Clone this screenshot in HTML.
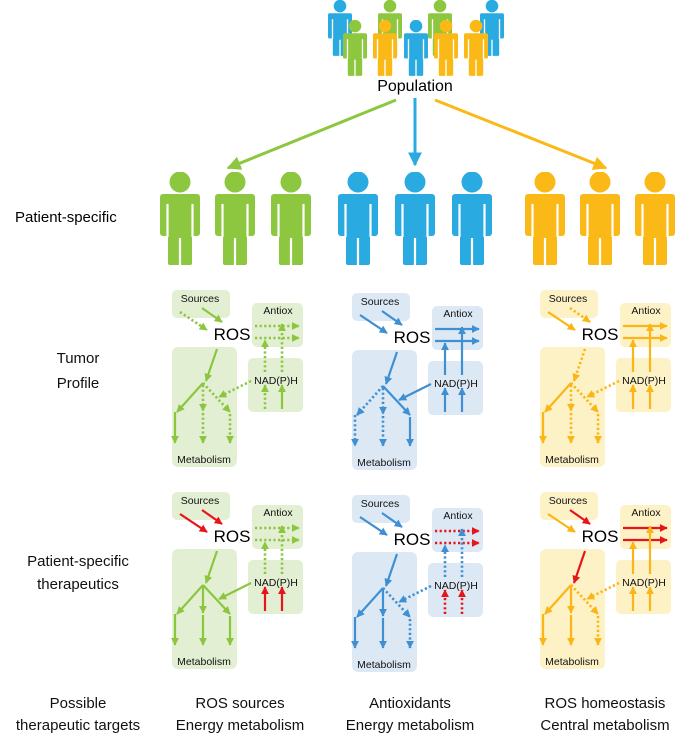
<!DOCTYPE html>
<html><head><meta charset="utf-8"><style>
html,body{margin:0;padding:0;background:#fff}
svg{display:block;font-family:"Liberation Sans",sans-serif}
line{stroke-width:2.2;fill:none}
.g{stroke:#8cc63f;marker-end:url(#mg)}
.b{stroke:#3f8fd2;marker-end:url(#mb)}
.y{stroke:#fbb616;marker-end:url(#my)}
.r{stroke:#e8141b;marker-end:url(#mr)}
.d{stroke-dasharray:2.2 2.4;stroke-width:2.6}
.bt{font-size:10.5px;text-anchor:middle;fill:#111}
.ros{font-size:17px;text-anchor:middle;fill:#000}
.lab{font-size:15px;fill:#111;text-anchor:middle}
</style></head><body>
<svg width="680" height="741" viewBox="0 0 680 741" xmlns="http://www.w3.org/2000/svg">
<defs>
<marker id="mg" viewBox="0 0 10 10" refX="9" refY="5" markerWidth="8" markerHeight="8" markerUnits="userSpaceOnUse" orient="auto"><path d="M0,0L10,5L0,10z" fill="#8cc63f"/></marker>
<marker id="mb" viewBox="0 0 10 10" refX="9" refY="5" markerWidth="8" markerHeight="8" markerUnits="userSpaceOnUse" orient="auto"><path d="M0,0L10,5L0,10z" fill="#3f8fd2"/></marker>
<marker id="my" viewBox="0 0 10 10" refX="9" refY="5" markerWidth="8" markerHeight="8" markerUnits="userSpaceOnUse" orient="auto"><path d="M0,0L10,5L0,10z" fill="#fbb616"/></marker>
<marker id="mr" viewBox="0 0 10 10" refX="9" refY="5" markerWidth="8" markerHeight="8" markerUnits="userSpaceOnUse" orient="auto"><path d="M0,0L10,5L0,10z" fill="#e8141b"/></marker>
<marker id="Mg" viewBox="0 0 10 10" refX="9" refY="5" markerWidth="14" markerHeight="14" markerUnits="userSpaceOnUse" orient="auto"><path d="M0,0L10,5L0,10z" fill="#8dc63f"/></marker>
<marker id="Mb" viewBox="0 0 10 10" refX="9" refY="5" markerWidth="14" markerHeight="14" markerUnits="userSpaceOnUse" orient="auto"><path d="M0,0L10,5L0,10z" fill="#29abe2"/></marker>
<marker id="My" viewBox="0 0 10 10" refX="9" refY="5" markerWidth="14" markerHeight="14" markerUnits="userSpaceOnUse" orient="auto"><path d="M0,0L10,5L0,10z" fill="#fbb917"/></marker>
<symbol id="p" viewBox="-20 0 40 93">
<circle cx="0" cy="10" r="10.5" fill="currentColor"/>
<rect x="-20" y="22" width="40" height="42" rx="3" fill="currentColor"/>
<rect x="-12" y="58" width="24" height="35" rx="2" fill="currentColor"/>
<line x1="-12.5" y1="32" x2="-12.5" y2="65" stroke="#fff" stroke-width="1.3"/>
<line x1="12.5" y1="32" x2="12.5" y2="65" stroke="#fff" stroke-width="1.3"/>
<line x1="0" y1="66" x2="0" y2="94" stroke="#fff" stroke-width="2"/>
</symbol>
</defs>

<!-- population -->
<use href="#p" x="328" y="0" width="24" height="56" style="color:#29abe2"/>
<use href="#p" x="378" y="0" width="24" height="56" style="color:#8dc63f"/>
<use href="#p" x="428" y="0" width="24" height="56" style="color:#8dc63f"/>
<use href="#p" x="480" y="0" width="24" height="56" style="color:#29abe2"/>
<use href="#p" x="343" y="20" width="24" height="56" style="color:#8dc63f"/>
<use href="#p" x="373" y="20" width="24" height="56" style="color:#fbb917"/>
<use href="#p" x="404" y="20" width="24" height="56" style="color:#29abe2"/>
<use href="#p" x="434" y="20" width="24" height="56" style="color:#fbb917"/>
<use href="#p" x="464" y="20" width="24" height="56" style="color:#fbb917"/>
<text x="415" y="91" style="font-size:16px;text-anchor:middle">Population</text>
<line x1="396" y1="100" x2="228" y2="168" style="stroke:#8dc63f;stroke-width:3;marker-end:url(#Mg)"/>
<line x1="415" y1="98" x2="415" y2="165" style="stroke:#29abe2;stroke-width:3;marker-end:url(#Mb)"/>
<line x1="435" y1="100" x2="606" y2="168" style="stroke:#fbb917;stroke-width:3;marker-end:url(#My)"/>

<!-- big people -->
<use href="#p" x="160" y="172" width="40" height="93" style="color:#8dc63f"/>
<use href="#p" x="215" y="172" width="40" height="93" style="color:#8dc63f"/>
<use href="#p" x="271" y="172" width="40" height="93" style="color:#8dc63f"/>
<use href="#p" x="338" y="172" width="40" height="93" style="color:#29abe2"/>
<use href="#p" x="395" y="172" width="40" height="93" style="color:#29abe2"/>
<use href="#p" x="452" y="172" width="40" height="93" style="color:#29abe2"/>
<use href="#p" x="525" y="172" width="40" height="93" style="color:#fbb917"/>
<use href="#p" x="580" y="172" width="40" height="93" style="color:#fbb917"/>
<use href="#p" x="635" y="172" width="40" height="93" style="color:#fbb917"/>

<!-- left labels -->
<text x="15" y="222" style="font-size:15px">Patient-specific</text>
<text class="lab" x="78" y="363">Tumor</text>
<text class="lab" x="78" y="388">Profile</text>
<text class="lab" x="78" y="566">Patient-specific</text>
<text class="lab" x="78" y="589">therapeutics</text>
<text class="lab" x="78" y="708">Possible</text>
<text class="lab" x="78" y="730">therapeutic targets</text>
<text class="lab" x="240" y="708">ROS sources</text>
<text class="lab" x="240" y="730">Energy metabolism</text>
<text class="lab" x="410" y="708">Antioxidants</text>
<text class="lab" x="410" y="730">Energy metabolism</text>
<text class="lab" x="605" y="708">ROS homeostasis</text>
<text class="lab" x="605" y="730">Central metabolism</text>

<!-- Green tumor -->
<g transform="translate(0,0)">
<g fill="#e3efd3"><rect x="172" y="290" width="58" height="28" rx="5"/><rect x="252" y="303" width="51" height="44" rx="5"/><rect x="248" y="358" width="55" height="54" rx="5"/><rect x="172" y="347" width="65" height="120" rx="6"/></g>
<text class="bt" x="200" y="302">Sources</text><text class="bt" x="278" y="314">Antiox</text><text class="ros" x="232" y="340">ROS</text><text class="bt" x="276" y="384">NAD(P)H</text><text class="bt" x="204" y="463">Metabolism</text>
<line class="g d" x1="180" y1="312" x2="207" y2="330"/><line class="g" x1="202" y1="308" x2="222" y2="322"/>
<line class="g d" x1="255" y1="326" x2="299" y2="326"/><line class="g d" x1="255" y1="338" x2="299" y2="338"/>
<line class="g d" x1="265" y1="372" x2="265" y2="340"/><line class="g d" x1="282" y1="372" x2="282" y2="324"/>
<line class="g d" x1="265" y1="409" x2="265" y2="385"/><line class="g" x1="282" y1="409" x2="282" y2="385"/>
<line class="g" x1="217" y1="349" x2="206" y2="381"/>
<line class="g" x1="203" y1="383" x2="177" y2="412"/><line class="g" x1="175" y1="412" x2="175" y2="443"/>
<line class="g d" x1="203" y1="385" x2="203" y2="411"/><line class="g d" x1="203" y1="413" x2="203" y2="443"/>
<line class="g d" x1="203" y1="383" x2="230" y2="412"/><line class="g d" x1="230" y1="414" x2="230" y2="443"/>
<line class="g d" x1="251" y1="381" x2="219" y2="397"/>
</g>

<!-- Blue tumor -->
<g transform="translate(180,3)">
<g fill="#dce9f5"><rect x="172" y="290" width="58" height="28" rx="5"/><rect x="252" y="303" width="51" height="44" rx="5"/><rect x="248" y="358" width="55" height="54" rx="5"/><rect x="172" y="347" width="65" height="120" rx="6"/></g>
<text class="bt" x="200" y="302">Sources</text><text class="bt" x="278" y="314">Antiox</text><text class="ros" x="232" y="340">ROS</text><text class="bt" x="276" y="384">NAD(P)H</text><text class="bt" x="204" y="463">Metabolism</text>
<line class="b" x1="180" y1="312" x2="207" y2="330"/><line class="b" x1="202" y1="308" x2="222" y2="322"/>
<line class="b" x1="255" y1="326" x2="299" y2="326"/><line class="b" x1="255" y1="338" x2="299" y2="338"/>
<line class="b" x1="265" y1="372" x2="265" y2="340"/><line class="b" x1="282" y1="372" x2="282" y2="324"/>
<line class="b" x1="265" y1="409" x2="265" y2="385"/><line class="b" x1="282" y1="409" x2="282" y2="385"/>
<line class="b" x1="217" y1="349" x2="206" y2="381"/>
<line class="b d" x1="203" y1="383" x2="177" y2="412"/><line class="b d" x1="175" y1="412" x2="175" y2="443"/>
<line class="b d" x1="203" y1="385" x2="203" y2="411"/><line class="b d" x1="203" y1="413" x2="203" y2="443"/>
<line class="b" x1="203" y1="383" x2="230" y2="412"/><line class="b" x1="230" y1="414" x2="230" y2="443"/>
<line class="b" x1="251" y1="381" x2="219" y2="397"/>
</g>

<!-- Yellow tumor -->
<g transform="translate(368,0)">
<g fill="#fdf1c6"><rect x="172" y="290" width="58" height="28" rx="5"/><rect x="252" y="303" width="51" height="44" rx="5"/><rect x="248" y="358" width="55" height="54" rx="5"/><rect x="172" y="347" width="65" height="120" rx="6"/></g>
<text class="bt" x="200" y="302">Sources</text><text class="bt" x="278" y="314">Antiox</text><text class="ros" x="232" y="340">ROS</text><text class="bt" x="276" y="384">NAD(P)H</text><text class="bt" x="204" y="463">Metabolism</text>
<line class="y" x1="180" y1="312" x2="207" y2="330"/><line class="y d" x1="202" y1="308" x2="222" y2="322"/>
<line class="y" x1="255" y1="326" x2="299" y2="326"/><line class="y" x1="255" y1="338" x2="299" y2="338"/>
<line class="y" x1="265" y1="372" x2="265" y2="340"/><line class="y" x1="282" y1="372" x2="282" y2="324"/>
<line class="y" x1="265" y1="409" x2="265" y2="385"/><line class="y" x1="282" y1="409" x2="282" y2="385"/>
<line class="y d" x1="217" y1="349" x2="206" y2="381"/>
<line class="y" x1="203" y1="383" x2="177" y2="412"/><line class="y" x1="175" y1="412" x2="175" y2="443"/>
<line class="y d" x1="203" y1="385" x2="203" y2="411"/><line class="y d" x1="203" y1="413" x2="203" y2="443"/>
<line class="y d" x1="203" y1="383" x2="230" y2="412"/><line class="y d" x1="230" y1="414" x2="230" y2="443"/>
<line class="y d" x1="251" y1="381" x2="219" y2="397"/>
</g>

<!-- Green therapy -->
<g transform="translate(0,202)">
<g fill="#e3efd3"><rect x="172" y="290" width="58" height="28" rx="5"/><rect x="252" y="303" width="51" height="44" rx="5"/><rect x="248" y="358" width="55" height="54" rx="5"/><rect x="172" y="347" width="65" height="120" rx="6"/></g>
<text class="bt" x="200" y="302">Sources</text><text class="bt" x="278" y="314">Antiox</text><text class="ros" x="232" y="340">ROS</text><text class="bt" x="276" y="384">NAD(P)H</text><text class="bt" x="204" y="463">Metabolism</text>
<line class="r" x1="180" y1="312" x2="207" y2="330"/><line class="r" x1="202" y1="308" x2="222" y2="322"/>
<line class="g d" x1="255" y1="326" x2="299" y2="326"/><line class="g d" x1="255" y1="338" x2="299" y2="338"/>
<line class="g d" x1="265" y1="372" x2="265" y2="340"/><line class="g d" x1="282" y1="372" x2="282" y2="324"/>
<line class="r" x1="265" y1="409" x2="265" y2="385"/><line class="r" x1="282" y1="409" x2="282" y2="385"/>
<line class="g" x1="217" y1="349" x2="206" y2="381"/>
<line class="g" x1="203" y1="383" x2="177" y2="412"/><line class="g" x1="175" y1="412" x2="175" y2="443"/>
<line class="g" x1="203" y1="385" x2="203" y2="411"/><line class="g" x1="203" y1="413" x2="203" y2="443"/>
<line class="g" x1="203" y1="383" x2="230" y2="412"/><line class="g" x1="230" y1="414" x2="230" y2="443"/>
<line class="g" x1="251" y1="381" x2="219" y2="397"/>
</g>

<!-- Blue therapy -->
<g transform="translate(180,205)">
<g fill="#dce9f5"><rect x="172" y="290" width="58" height="28" rx="5"/><rect x="252" y="303" width="51" height="44" rx="5"/><rect x="248" y="358" width="55" height="54" rx="5"/><rect x="172" y="347" width="65" height="120" rx="6"/></g>
<text class="bt" x="200" y="302">Sources</text><text class="bt" x="278" y="314">Antiox</text><text class="ros" x="232" y="340">ROS</text><text class="bt" x="276" y="384">NAD(P)H</text><text class="bt" x="204" y="463">Metabolism</text>
<line class="b" x1="180" y1="312" x2="207" y2="330"/><line class="b" x1="202" y1="308" x2="222" y2="322"/>
<line class="r d" x1="255" y1="326" x2="299" y2="326"/><line class="r d" x1="255" y1="338" x2="299" y2="338"/>
<line class="b d" x1="265" y1="372" x2="265" y2="340"/><line class="b d" x1="282" y1="372" x2="282" y2="324"/>
<line class="r d" x1="265" y1="409" x2="265" y2="385"/><line class="r d" x1="282" y1="409" x2="282" y2="385"/>
<line class="b" x1="217" y1="349" x2="206" y2="381"/>
<line class="b" x1="203" y1="383" x2="177" y2="412"/><line class="b" x1="175" y1="412" x2="175" y2="443"/>
<line class="b" x1="203" y1="385" x2="203" y2="411"/><line class="b" x1="203" y1="413" x2="203" y2="443"/>
<line class="b d" x1="203" y1="383" x2="230" y2="412"/><line class="b d" x1="230" y1="414" x2="230" y2="443"/>
<line class="b d" x1="251" y1="381" x2="219" y2="397"/>
</g>

<!-- Yellow therapy -->
<g transform="translate(368,202)">
<g fill="#fdf1c6"><rect x="172" y="290" width="58" height="28" rx="5"/><rect x="252" y="303" width="51" height="44" rx="5"/><rect x="248" y="358" width="55" height="54" rx="5"/><rect x="172" y="347" width="65" height="120" rx="6"/></g>
<text class="bt" x="200" y="302">Sources</text><text class="bt" x="278" y="314">Antiox</text><text class="ros" x="232" y="340">ROS</text><text class="bt" x="276" y="384">NAD(P)H</text><text class="bt" x="204" y="463">Metabolism</text>
<line class="y" x1="180" y1="312" x2="207" y2="330"/><line class="r" x1="202" y1="308" x2="222" y2="322"/>
<line class="r" x1="255" y1="326" x2="299" y2="326"/><line class="r" x1="255" y1="338" x2="299" y2="338"/>
<line class="y" x1="265" y1="372" x2="265" y2="340"/><line class="y" x1="282" y1="372" x2="282" y2="324"/>
<line class="y" x1="265" y1="409" x2="265" y2="385"/><line class="y" x1="282" y1="409" x2="282" y2="385"/>
<line class="r" x1="217" y1="349" x2="206" y2="381"/>
<line class="y" x1="203" y1="383" x2="177" y2="412"/><line class="y" x1="175" y1="412" x2="175" y2="443"/>
<line class="y" x1="203" y1="385" x2="203" y2="411"/><line class="y" x1="203" y1="413" x2="203" y2="443"/>
<line class="y d" x1="203" y1="383" x2="230" y2="412"/><line class="y d" x1="230" y1="414" x2="230" y2="443"/>
<line class="y d" x1="251" y1="381" x2="219" y2="397"/>
</g>
</svg>
</body></html>
